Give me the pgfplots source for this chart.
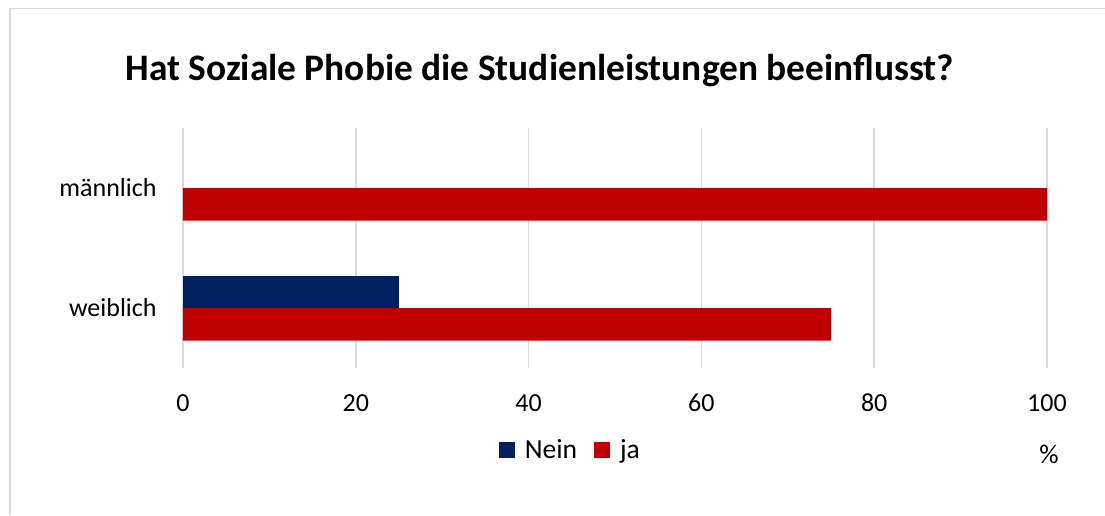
\documentclass[border=0pt]{standalone}
\usepackage{pgfplots}
\pgfplotsset{compat=1.18}
\usepackage{fontspec}
\setmainfont{Carlito}
\definecolor{nein}{HTML}{002060}
\definecolor{ja}{HTML}{C00000}
\definecolor{gridgray}{HTML}{D9D9D9}

% 1 px of the reference = 0.5pt
\begin{document}
\begin{tikzpicture}
\path[use as bounding box] (0,0) rectangle (552.5pt,257.5pt);
% chart frame (only top and left edge are visible)
\draw[gridgray, line width=0.75pt] (5pt,0) -- (5pt,253.25pt) -- (552.5pt,253.25pt);

% title
\node[anchor=base, font=\bfseries\fontsize{18.7}{22}\selectfont] at (269.8pt,217.2pt)
  {Hat Soziale Phobie die Studienleistungen beeinflusst?};

\begin{axis}[
    at={(91.5pt,73.5pt)}, anchor=south west,
    scale only axis,
    width=432pt, height=120pt,
    xbar, bar width=16.25pt,
    xmin=0, xmax=100,
    ymin=-0.5, ymax=1.5,
    xtick={0,20,...,100},
    ytick={0,1},
    yticklabels={weiblich,männlich},
    axis line style={draw=none},
    major tick length=0pt,
    xmajorgrids,
    grid style={gridgray, line width=0.9pt},
    font=\fontsize{13}{15}\selectfont,
    /pgf/number format/assume math mode=true,
    xticklabel style={anchor=base, yshift=-21.5pt, inner sep=0pt},
    yticklabel style={anchor=east, inner sep=0pt, xshift=-13pt},
    legend style={
        at={(axis description cs:0.4495,-0.342)},
        anchor=center,
        draw=none,
        legend columns=2,
        font=\fontsize{13.8}{15}\selectfont,
        /tikz/every odd column/.append style={column sep=3pt},
        /tikz/every even column/.append style={column sep=6.5pt},
    },
    legend image code/.code={\fill[#1] (0pt,-4pt) rectangle (8pt,4pt);},
]
% Nein: männlich = 0 (no bar), weiblich = 25
\addplot[fill=nein, draw=none, bar shift=8.125pt]
    coordinates {(25,0)};
\addplot[fill=ja, draw=none, bar shift=-8.125pt]
    coordinates {(100,1) (75,0)};
\legend{Nein, ja}
\end{axis}

\node[font=\fontsize{13.5}{15}\selectfont] at (524.5pt,30.5pt) {\%};
\end{tikzpicture}
\end{document}
